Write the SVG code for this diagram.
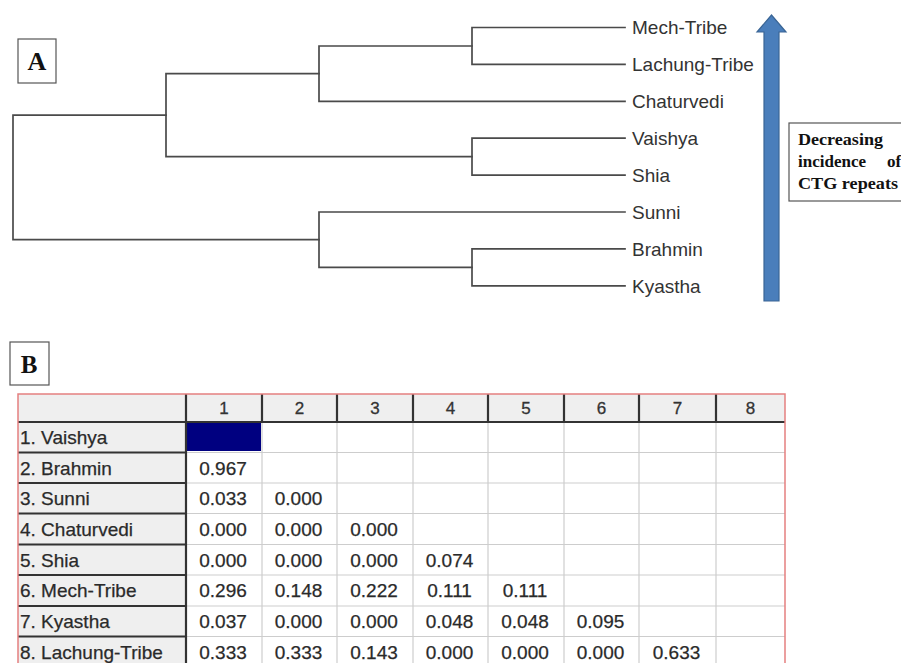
<svg xmlns="http://www.w3.org/2000/svg" width="901" height="663" viewBox="0 0 901 663">
<style>
.tree{fill:none;stroke:#4a4a4a;stroke-width:1.7;stroke-linecap:square}
.leaf{font-family:"Liberation Sans",Arial,sans-serif;font-size:19px;fill:#333}
.panel{fill:#fff;stroke:#555;stroke-width:1.2}
.plab{font-family:"Liberation Serif","Times New Roman",serif;font-weight:bold;fill:#111}
.note{font-family:"Liberation Serif","Times New Roman",serif;font-weight:bold;font-size:17px;fill:#111}
.hdr{fill:#efefef}
.grid{stroke:#cdcdcd;stroke-width:1.2}
.dark{stroke:#333;stroke-width:2.2}
.rh{font-family:"Liberation Sans",Arial,sans-serif;font-size:19px;fill:#2a2a2a;stroke:#2a2a2a;stroke-width:0.25}
.num{font-family:"Liberation Sans",Arial,sans-serif;font-size:19px;fill:#2a2a2a;stroke:#2a2a2a;stroke-width:0.25;text-anchor:middle}
.ch{font-family:"Liberation Sans",Arial,sans-serif;font-size:17px;fill:#333;stroke:#333;stroke-width:0.3;text-anchor:middle}
</style>

<!-- Panel A -->
<g id="labelA"><rect class="panel" x="18" y="39" width="38" height="44"/><text class="plab" x="37" y="70" font-size="26" text-anchor="middle">A</text></g>

<g id="connectors">
<path class="tree" d="M472,27.5H625M472,64.4H625M472,27.5V64.4"/>
<path class="tree" d="M319,46H472M319,101.3H625M319,46V101.3"/>
<path class="tree" d="M472,138.2H625M472,175.1H625M472,138.2V175.1"/>
<path class="tree" d="M166,73.6H319M166,156.7H472M166,73.6V156.7"/>
<path class="tree" d="M472,248.9H625M472,285.8H625M472,248.9V285.8"/>
<path class="tree" d="M319,212H625M319,267.3H472M319,212V267.3"/>
<path class="tree" d="M13,115.1H166M13,239.7H319M13,115.1V239.7"/>
</g>

<g id="leaf-mech"><text class="leaf" x="632" y="34">Mech-Tribe</text></g>
<g id="leaf-lachung"><text class="leaf" x="632" y="71">Lachung-Tribe</text></g>
<g id="leaf-chaturvedi"><text class="leaf" x="632" y="108">Chaturvedi</text></g>
<g id="leaf-vaishya"><text class="leaf" x="632" y="145">Vaishya</text></g>
<g id="leaf-shia"><text class="leaf" x="632" y="182">Shia</text></g>
<g id="leaf-sunni"><text class="leaf" x="632" y="219">Sunni</text></g>
<g id="leaf-brahmin"><text class="leaf" x="632" y="256">Brahmin</text></g>
<g id="leaf-kyastha"><text class="leaf" x="632" y="293">Kyastha</text></g>

<g id="arrow"><path d="M764,301V32H757L771.5,15L786,32H779V301Z" fill="#4a7ebb" stroke="#3a6595" stroke-width="1.2"/></g>

<g id="note">
<rect class="panel" x="789" y="123" width="120" height="78"/>
<text class="note" x="798" y="145" textLength="85" lengthAdjust="spacingAndGlyphs">Decreasing</text>
<text class="note" x="798" y="167">incidence<tspan x="887">of</tspan></text>
<text class="note" x="798" y="189" textLength="100" lengthAdjust="spacingAndGlyphs">CTG repeats</text>
</g>

<!-- Panel B -->
<g id="labelB"><rect class="panel" x="10" y="342" width="39" height="43"/><text class="plab" x="29" y="373" font-size="25" text-anchor="middle">B</text></g>

<g id="table">
<rect class="hdr" x="18" y="394" width="767" height="28"/>
<rect class="hdr" x="18" y="422" width="168" height="245"/>
<rect x="186" y="422" width="599" height="245" fill="#fff"/>
<rect x="187" y="423" width="74" height="28" fill="#000080"/>
<g class="grid">
<path d="M186,452.5H785M186,483H785M186,513.5H785M186,544.5H785M186,575H785M186,606H785M186,636.5H785"/>
<path d="M262,422V667M337,422V667M413,422V667M488,422V667M564,422V667M639,422V667M716,422V667"/>
</g>
<g class="dark">
<path d="M18,422H785"/>
<path d="M186,394V667M262,394V422M337,394V422M413,394V422M488,394V422M564,394V422M639,394V422M716,394V422"/>
<path d="M18,452.5H186M18,483H186M18,513.5H186M18,544.5H186M18,575H186M18,606H186M18,636.5H186"/>
</g>
<path d="M18,667V394H785V667" fill="none" stroke="#e58080" stroke-width="1.5"/>
<text class="ch" x="224" y="414">1</text>
<text class="ch" x="299.5" y="414">2</text>
<text class="ch" x="375" y="414">3</text>
<text class="ch" x="450.5" y="414">4</text>
<text class="ch" x="526" y="414">5</text>
<text class="ch" x="601.5" y="414">6</text>
<text class="ch" x="677.5" y="414">7</text>
<text class="ch" x="750.5" y="414">8</text>
<text class="rh" x="20" y="444">1. Vaishya</text>
<text class="rh" x="20" y="474.5">2. Brahmin</text>
<text class="rh" x="20" y="505">3. Sunni</text>
<text class="rh" x="20" y="535.5">4. Chaturvedi</text>
<text class="rh" x="20" y="566.5">5. Shia</text>
<text class="rh" x="20" y="597">6. Mech-Tribe</text>
<text class="rh" x="20" y="627.5">7. Kyastha</text>
<text class="rh" x="20" y="658.5">8. Lachung-Tribe</text>
<text class="num" x="223" y="474.5">0.967</text>
<text class="num" x="223" y="505">0.033</text>
<text class="num" x="298.5" y="505">0.000</text>
<text class="num" x="223" y="535.5">0.000</text>
<text class="num" x="298.5" y="535.5">0.000</text>
<text class="num" x="374" y="535.5">0.000</text>
<text class="num" x="223" y="566.5">0.000</text>
<text class="num" x="298.5" y="566.5">0.000</text>
<text class="num" x="374" y="566.5">0.000</text>
<text class="num" x="449.5" y="566.5">0.074</text>
<text class="num" x="223" y="597">0.296</text>
<text class="num" x="298.5" y="597">0.148</text>
<text class="num" x="374" y="597">0.222</text>
<text class="num" x="449.5" y="597">0.111</text>
<text class="num" x="525" y="597">0.111</text>
<text class="num" x="223" y="627.5">0.037</text>
<text class="num" x="298.5" y="627.5">0.000</text>
<text class="num" x="374" y="627.5">0.000</text>
<text class="num" x="449.5" y="627.5">0.048</text>
<text class="num" x="525" y="627.5">0.048</text>
<text class="num" x="600.5" y="627.5">0.095</text>
<text class="num" x="223" y="658.5">0.333</text>
<text class="num" x="298.5" y="658.5">0.333</text>
<text class="num" x="374" y="658.5">0.143</text>
<text class="num" x="449.5" y="658.5">0.000</text>
<text class="num" x="525" y="658.5">0.000</text>
<text class="num" x="600.5" y="658.5">0.000</text>
<text class="num" x="676.5" y="658.5">0.633</text>
</g>
</svg>
